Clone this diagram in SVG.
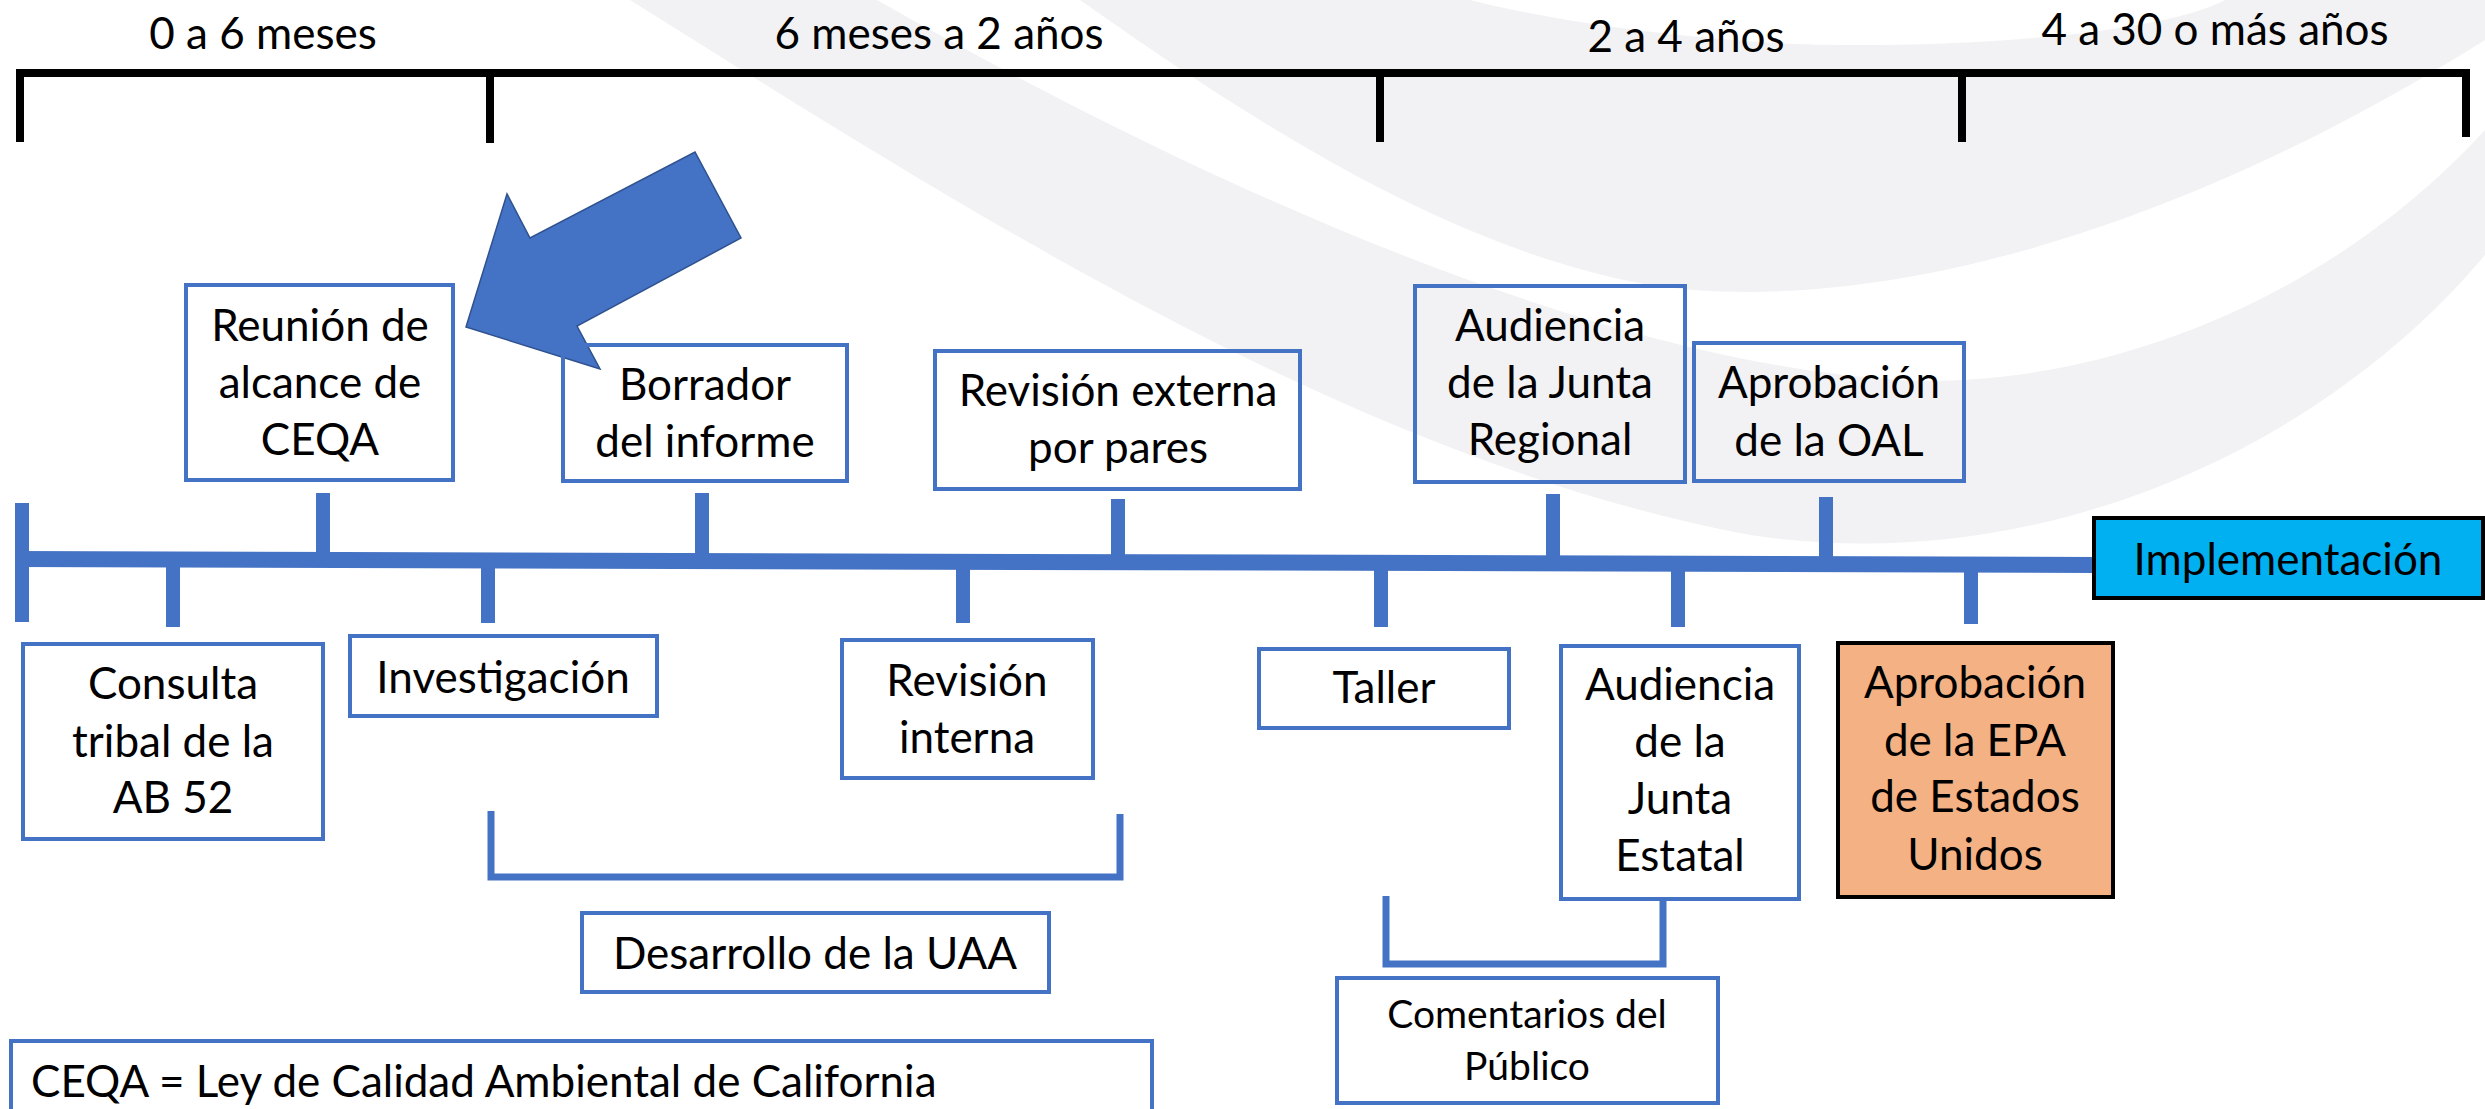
<svg xmlns="http://www.w3.org/2000/svg" width="2485" height="1109" viewBox="0 0 2485 1109">
<style>
.t{font-family:Lato,"Liberation Sans",sans-serif;font-size:44px;fill:#000;text-anchor:middle}
.hd{font-family:Lato,"Liberation Sans",sans-serif;font-size:44px;fill:#000;text-anchor:middle}
.box{fill:none;stroke:#4472C4;stroke-width:4}
.tick{stroke:#4472C4;stroke-width:14;fill:none}
.brk{stroke:#4472C4;stroke-width:7;fill:none}
.blk{stroke:#000;stroke-width:8;fill:none}
.wm{fill:#F2F2F4}
</style>
<rect width="2485" height="1109" fill="#fff"/>
<g id="watermark">
<path class="wm" d="M630,0 C950,200 1350,460 1750,535 C2050,580 2330,440 2485,255 L2485,130 C2330,300 2100,390 1900,380 C1650,365 1300,240 877,0 Z"/>
<path class="wm" d="M1080,0 C1250,120 1450,250 1650,285 C1850,315 2150,250 2485,40 L2485,0 L2225,0 C2150,40 1900,50 1774,43 C1650,35 1550,20 1470,0 Z"/>
</g>
<g id="periods">
<path class="blk" d="M16,73 H2470 M20,73 V142 M490,73 V143 M1380,73 V142 M1962,73 V142 M2466,73 V137"/>
<text class="hd" x="263" y="49">0 a 6 meses</text>
<text class="hd" x="939" y="49">6 meses a 2 años</text>
<text class="hd" x="1686" y="52">2 a 4 años</text>
<text class="hd" x="2215" y="45">4 a 30 o más años</text>
</g>
<g id="connectors">
<path d="M15,559 L2096,565" stroke="#4472C4" stroke-width="16"/>
<path class="tick" d="M22,503 V622 M323,493 V560 M702,493 V560 M1118,499 V562 M1553,494 V563 M1826,497 V563 M173,560 V627 M488,560 V623 M963,562 V623 M1381,563 V627 M1678,564 V627 M1971,564 V624"/>
<path class="brk" d="M491,811 V877 H1120 V814"/>
<path class="brk" d="M1386,896 V964 H1663 V899"/>
</g>
<g id="arrow">
<polygon points="466,327 507,194 530,238 695,152 741,238 577,326 600,369" fill="#4472C4" stroke="#2F528F" stroke-width="1.5"/>
</g>
<g id="n-reunion"><rect class="box" x="186" y="285" width="267" height="195"/><text class="t" x="320" y="341">Reunión de</text><text class="t" x="320" y="398">alcance de</text><text class="t" x="320" y="455">CEQA</text></g>
<g id="n-borrador"><rect class="box" x="563" y="345" width="284" height="136"/><text class="t" x="705" y="400">Borrador</text><text class="t" x="705" y="457">del informe</text></g>
<g id="n-revext"><rect class="box" x="935" y="351" width="365" height="138"/><text class="t" x="1118" y="406">Revisión externa</text><text class="t" x="1118" y="463">por pares</text></g>
<g id="n-audreg"><rect class="box" x="1415" y="286" width="270" height="196"/><text class="t" x="1550" y="341">Audiencia</text><text class="t" x="1550" y="398">de la Junta</text><text class="t" x="1550" y="455">Regional</text></g>
<g id="n-oal"><rect class="box" x="1694" y="343" width="270" height="138"/><text class="t" x="1829" y="398">Aprobación</text><text class="t" x="1829" y="456">de la OAL</text></g>
<g id="n-consulta"><rect class="box" x="23" y="644" width="300" height="195"/><text class="t" x="173" y="699">Consulta</text><text class="t" x="173" y="757">tribal de la</text><text class="t" x="173" y="813">AB 52</text></g>
<g id="n-invest"><rect class="box" x="350" y="636" width="307" height="80"/><text class="t" x="503" y="693">Investigación</text></g>
<g id="n-revint"><rect class="box" x="842" y="640" width="251" height="138"/><text class="t" x="967" y="696">Revisión</text><text class="t" x="967" y="753">interna</text></g>
<g id="n-taller"><rect class="box" x="1259" y="649" width="250" height="79"/><text class="t" x="1384" y="703">Taller</text></g>
<g id="n-audest"><rect class="box" x="1561" y="646" width="238" height="253"/><text class="t" x="1680" y="700">Audiencia</text><text class="t" x="1680" y="757">de la</text><text class="t" x="1680" y="814">Junta</text><text class="t" x="1680" y="871">Estatal</text></g>
<g id="n-epa"><rect x="1838" y="643" width="275" height="254" fill="#F4B183" stroke="#000" stroke-width="4"/><text class="t" x="1975" y="698">Aprobación</text><text class="t" x="1975" y="756">de la EPA</text><text class="t" x="1975" y="812">de Estados</text><text class="t" x="1975" y="870">Unidos</text></g>
<g id="n-impl"><rect x="2094" y="518" width="389" height="80" fill="#00B0F0" stroke="#000" stroke-width="4"/><text class="t" x="2288" y="575">Implementación</text></g>
<g id="n-uaa"><rect class="box" x="582" y="913" width="467" height="79"/><text class="t" x="815" y="969">Desarrollo de la UAA</text></g>
<g id="n-coment"><rect class="box" x="1337" y="978" width="381" height="125"/><text class="t" x="1527" y="1028" style="font-size:39px">Comentarios del</text><text class="t" x="1527" y="1080" style="font-size:39px">Público</text></g>
<g id="n-legend"><rect class="box" x="11" y="1041" width="1141" height="90"/><text x="31" y="1097" style="font-family:Lato,'Liberation Sans',sans-serif;font-size:44px;fill:#000">CEQA = Ley de Calidad Ambiental de California</text></g>
</svg>
